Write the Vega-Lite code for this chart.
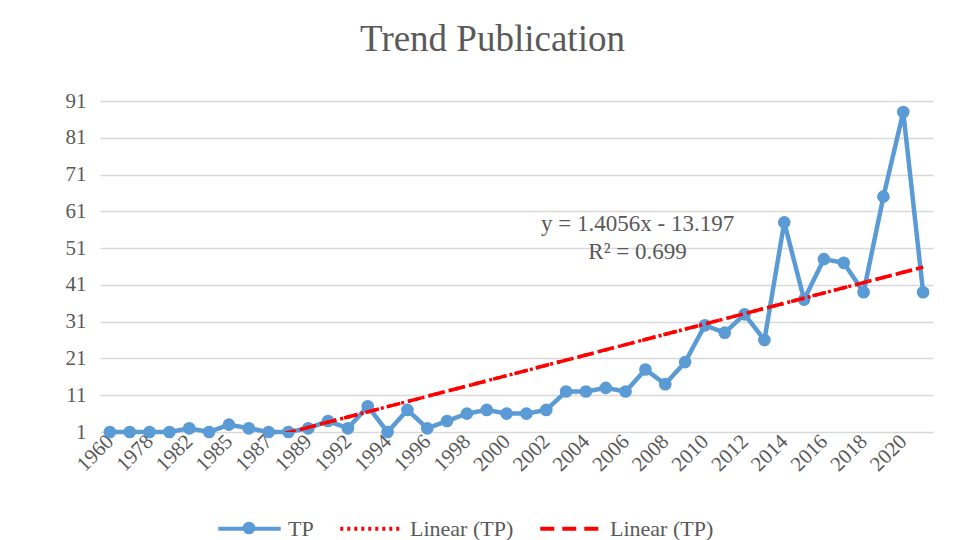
{
  "$schema": "https://vega.github.io/schema/vega-lite/v6.json",
  "width": 833,
  "height": 331,
  "autosize": "none",
  "padding": {"left": 100, "top": 101, "right": 26, "bottom": 108},
  "background": "white",
  "title": {
    "text": "Trend Publication",
    "font": "Liberation Serif",
    "fontSize": 37,
    "fontWeight": "normal",
    "color": "#595959",
    "anchor": "middle",
    "dx": -24,
    "offset": 31
  },
  "data": {
    "values": [
      {"year": "1960", "tp": 1, "trend": -11.791},
      {"year": "1976", "tp": 1, "trend": -10.386},
      {"year": "1978", "tp": 1, "trend": -8.980},
      {"year": "1980", "tp": 1, "trend": -7.575},
      {"year": "1982", "tp": 2, "trend": -6.169},
      {"year": "1984", "tp": 1, "trend": -4.764},
      {"year": "1985", "tp": 3, "trend": -3.358},
      {"year": "1986", "tp": 2, "trend": -1.952},
      {"year": "1987", "tp": 1, "trend": -0.547},
      {"year": "1988", "tp": 1, "trend": 0.859},
      {"year": "1989", "tp": 2, "trend": 2.265},
      {"year": "1991", "tp": 4, "trend": 3.670},
      {"year": "1992", "tp": 2, "trend": 5.076},
      {"year": "1993", "tp": 8, "trend": 6.481},
      {"year": "1994", "tp": 1, "trend": 7.887},
      {"year": "1995", "tp": 7, "trend": 9.293},
      {"year": "1996", "tp": 2, "trend": 10.698},
      {"year": "1997", "tp": 4, "trend": 12.104},
      {"year": "1998", "tp": 6, "trend": 13.509},
      {"year": "1999", "tp": 7, "trend": 14.915},
      {"year": "2000", "tp": 6, "trend": 16.321},
      {"year": "2001", "tp": 6, "trend": 17.726},
      {"year": "2002", "tp": 7, "trend": 19.132},
      {"year": "2003", "tp": 12, "trend": 20.537},
      {"year": "2004", "tp": 12, "trend": 21.943},
      {"year": "2005", "tp": 13, "trend": 23.349},
      {"year": "2006", "tp": 12, "trend": 24.754},
      {"year": "2007", "tp": 18, "trend": 26.160},
      {"year": "2008", "tp": 14, "trend": 27.565},
      {"year": "2009", "tp": 20, "trend": 28.971},
      {"year": "2010", "tp": 30, "trend": 30.377},
      {"year": "2011", "tp": 28, "trend": 31.782},
      {"year": "2012", "tp": 33, "trend": 33.188},
      {"year": "2013", "tp": 26, "trend": 34.593},
      {"year": "2014", "tp": 58, "trend": 35.999},
      {"year": "2015", "tp": 37, "trend": 37.405},
      {"year": "2016", "tp": 48, "trend": 38.810},
      {"year": "2017", "tp": 47, "trend": 40.216},
      {"year": "2018", "tp": 39, "trend": 41.621},
      {"year": "2019", "tp": 65, "trend": 43.027},
      {"year": "2020", "tp": 88, "trend": 44.433},
      {"year": "2021", "tp": 39, "trend": 45.838}
    ]
  },
  "encoding": {
    "x": {
      "field": "year",
      "type": "ordinal",
      "scale": {"type": "point", "padding": 0.5},
      "axis": {
        "title": null,
        "values": ["1960","1978","1982","1985","1987","1989","1992","1994","1996","1998","2000","2002","2004","2006","2008","2010","2012","2014","2016","2018","2020"],
        "labelAngle": -45,
        "labelAlign": "right",
        "labelBaseline": "middle",
        "labelFont": "Liberation Serif",
        "labelFontSize": 21,
        "labelColor": "#595959",
        "labelPadding": 6,
        "labelOverlap": false,
        "ticks": false,
        "domain": false,
        "grid": false
      }
    }
  },
  "layer": [
    {
      "mark": {"type": "line", "strokeWidth": 4.5},
      "encoding": {
        "y": {
          "field": "tp",
          "type": "quantitative",
          "scale": {"domain": [1, 91], "nice": false, "zero": false},
          "axis": {
            "title": null,
            "values": [1, 11, 21, 31, 41, 51, 61, 71, 81, 91],
            "labelFont": "Liberation Serif",
            "labelFontSize": 21,
            "labelColor": "#595959",
            "labelPadding": 14,
            "labelOverlap": false,
            "ticks": false,
            "domain": false,
            "gridColor": "#d9d9d9",
            "gridWidth": 1.5
          }
        },
        "color": {
          "datum": "TP",
          "scale": {"domain": ["TP", "Linear (TP)", "Linear (TP) "], "range": ["#5B9BD5", "#FF0000", "#FF0000"]}
        },
        "strokeDash": {
          "datum": "TP",
          "scale": {"domain": ["TP", "Linear (TP)", "Linear (TP) "], "range": [[1, 0], [3, 4], [14, 8]]}
        }
      }
    },
    {
      "mark": {"type": "point", "filled": true, "size": 160, "opacity": 1, "color": "#5B9BD5"},
      "encoding": {
        "y": {
          "field": "tp",
          "type": "quantitative",
          "axis": {
            "title": null,
            "values": [1, 11, 21, 31, 41, 51, 61, 71, 81, 91],
            "labelFont": "Liberation Serif",
            "labelFontSize": 21,
            "labelColor": "#595959",
            "labelPadding": 14,
            "labelOverlap": false,
            "ticks": false,
            "domain": false,
            "gridColor": "#d9d9d9",
            "gridWidth": 1.5
          }
        },
        "shape": {
          "datum": "TP",
          "scale": {"domain": ["TP"], "range": ["circle"]},
          "legend": {
            "orient": "none",
            "legendX": 138,
            "legendY": 416,
            "symbolType": "circle",
            "symbolSize": 160,
            "symbolFillColor": "#5B9BD5",
            "symbolStrokeWidth": 0,
            "labelColor": "transparent",
            "labelFontSize": 22,
            "labelFont": "Liberation Serif"
          }
        }
      }
    },
    {
      "mark": {"type": "line", "strokeWidth": 3.5, "clip": true},
      "encoding": {
        "y": {
          "field": "trend",
          "type": "quantitative",
          "axis": {
            "title": null,
            "values": [1, 11, 21, 31, 41, 51, 61, 71, 81, 91],
            "labelFont": "Liberation Serif",
            "labelFontSize": 21,
            "labelColor": "#595959",
            "labelPadding": 14,
            "labelOverlap": false,
            "ticks": false,
            "domain": false,
            "gridColor": "#d9d9d9",
            "gridWidth": 1.5
          }
        },
        "color": {"datum": "Linear (TP)"},
        "strokeDash": {"datum": "Linear (TP)"}
      }
    },
    {
      "mark": {"type": "line", "strokeWidth": 3.5, "clip": true},
      "encoding": {
        "y": {
          "field": "trend",
          "type": "quantitative",
          "axis": {
            "title": null,
            "values": [1, 11, 21, 31, 41, 51, 61, 71, 81, 91],
            "labelFont": "Liberation Serif",
            "labelFontSize": 21,
            "labelColor": "#595959",
            "labelPadding": 14,
            "labelOverlap": false,
            "ticks": false,
            "domain": false,
            "gridColor": "#d9d9d9",
            "gridWidth": 1.5
          }
        },
        "color": {"datum": "Linear (TP) "},
        "strokeDash": {"datum": "Linear (TP) "}
      }
    },
    {
      "data": {
        "values": [
          {"year": "2006", "value": 57.5, "label": "y = 1.4056x - 13.197"},
          {"year": "2006", "value": 50, "label": "R² = 0.699"}
        ]
      },
      "mark": {"type": "text", "font": "Liberation Serif", "fontSize": 23, "color": "#595959", "dx": 12, "align": "center", "baseline": "middle"},
      "encoding": {
        "y": {
          "field": "value",
          "type": "quantitative",
          "axis": {
            "title": null,
            "values": [1, 11, 21, 31, 41, 51, 61, 71, 81, 91],
            "labelFont": "Liberation Serif",
            "labelFontSize": 21,
            "labelColor": "#595959",
            "labelPadding": 14,
            "labelOverlap": false,
            "ticks": false,
            "domain": false,
            "gridColor": "#d9d9d9",
            "gridWidth": 1.5
          }
        },
        "text": {"field": "label"}
      }
    }
  ],
  "config": {
    "view": {"stroke": null},
    "legend": {
      "orient": "none",
      "legendX": 116,
      "legendY": 394,
      "direction": "horizontal",
      "title": null,
      "labelFont": "Liberation Serif",
      "labelFontSize": 22,
      "labelColor": "#595959",
      "labelOffset": 5,
      "symbolType": "stroke",
      "symbolSize": 3900,
      "symbolStrokeWidth": 4,
      "columnPadding": 18
    }
  }
}
